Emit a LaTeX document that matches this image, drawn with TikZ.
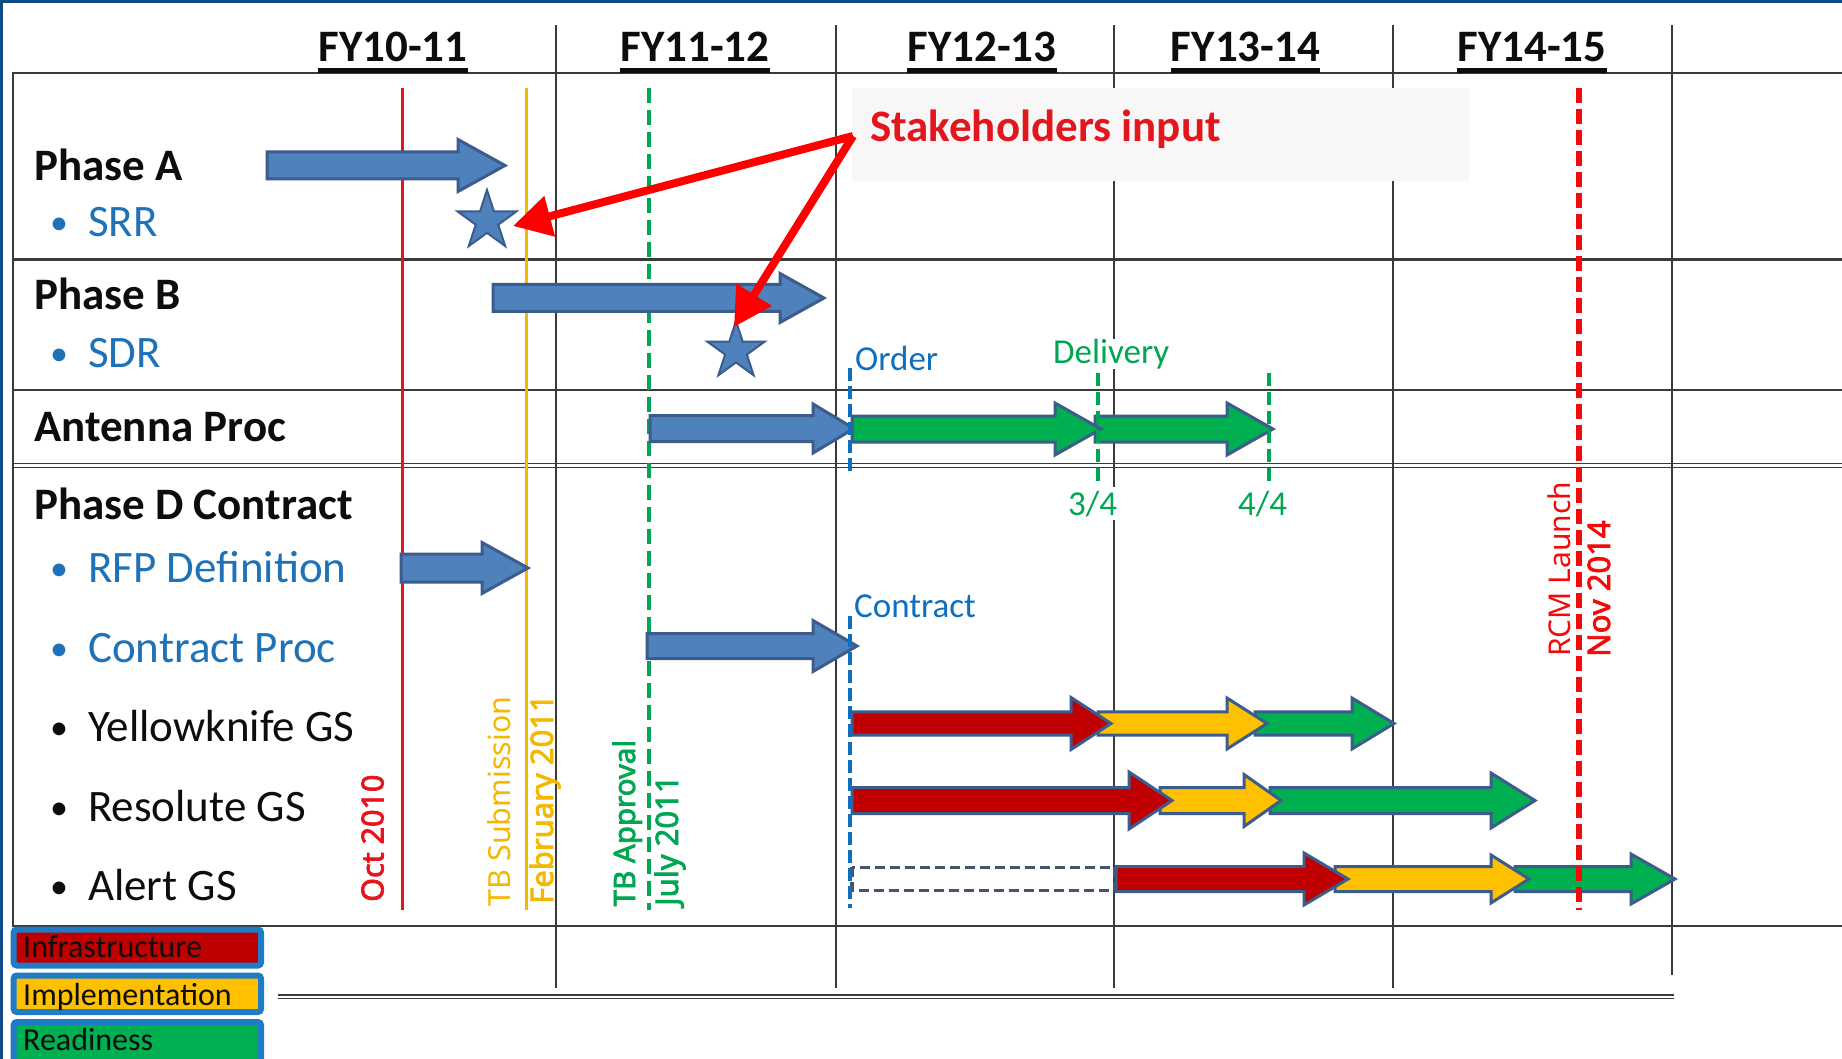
\documentclass[tikz,border=0pt]{standalone}
\usepackage{fontspec}
\setmainfont{Carlito}
\newfontfamily\notofont{Noto Sans}
\newfontfamily\notobf{Noto Sans}[FakeBold=2.5]
\usetikzlibrary{shapes.geometric,arrows.meta,calc}
\definecolor{navy}{HTML}{0E4A86}
\definecolor{gridc}{HTML}{3A3A3A}
\definecolor{bfill}{HTML}{4F81BD}
\definecolor{bline}{HTML}{3B5C8C}
\definecolor{infra}{HTML}{C00000}
\definecolor{impl}{HTML}{FFC000}
\definecolor{ready}{HTML}{00B050}
\definecolor{legb}{HTML}{1F7BC4}
\definecolor{subblue}{HTML}{1F72B8}
\definecolor{mblue}{HTML}{0E6FC0}
\definecolor{mgreen}{HTML}{00A651}
\definecolor{mred}{HTML}{E8141C}
\definecolor{rcmred}{HTML}{F50A0A}
\definecolor{myellow}{HTML}{F5B800}
\definecolor{stakebg}{HTML}{F8F6F6}
\definecolor{dashc}{HTML}{46556C}
\definecolor{stakered}{HTML}{E3161E}
\definecolor{txt}{HTML}{0D0D0D}
\newcommand\fsz[1]{\fontsize{#1}{#1}\selectfont}
\newcommand\bul{\makebox[38pt][l]{\fsz{36}\raisebox{2pt}{•}}}
\newcommand\blockarr[7]{\path[#1] (#2,{#5-#6}) -- (#3,{#5-#6}) -- (#3,{#5-#7}) -- (#4,#5) -- (#3,{#5+#7}) -- (#3,{#5+#6}) -- (#2,{#5+#6}) -- cycle;}
\begin{document}
\begin{tikzpicture}[x=1pt,y=-1pt,
  gridline/.style={draw=gridc,line width=1.5pt},
  barblue/.style={fill=bfill,draw=bline,line width=3pt,line join=miter},
  barred/.style={fill=infra,draw=bline,line width=3pt,line join=miter},
  baryel/.style={fill=impl,draw=bline,line width=3pt,line join=miter},
  bargrn/.style={fill=ready,draw=bline,line width=3pt,line join=miter},
  lbl/.style={inner sep=0pt,anchor=base west},
  vlbl/.style={inner sep=0pt,anchor=base west,rotate=90},
  fyl/.style={inner sep=0pt,anchor=base,font=\bfseries\fsz{45},text=txt},
  stk/.style={draw=red,line width=8pt,-{Triangle[length=38pt,width=40pt]}},
  legbox/.style={draw=legb,line width=6pt,rounded corners=3pt},
  bdash/.style={draw=mblue,line width=4pt,dash pattern=on 13pt off 5pt},
  gdash/.style={draw=mgreen,line width=4pt,dash pattern=on 13pt off 6pt}]
\useasboundingbox (0,0) rectangle (1842,1059);
\fill[white] (0,0) rectangle (1842,1059);
\fill[navy] (0,0) rectangle (1842,3.5);
\fill[navy] (0,0) rectangle (2.5,1059);
% grid
\foreach \x in {556,836,1114,1393} \draw[gridline] (\x,25) -- (\x,988);
\draw[gridline] (1672,25) -- (1672,975);
\draw[gridline,line width=2pt] (13,73) -- (1842,73);
\draw[gridline,line width=3pt] (13,260) -- (1842,260);
\draw[gridline,line width=2pt] (13,390) -- (1842,390);
\draw[gridline,line width=1.4pt] (13,463.5) -- (1842,463.5);
\draw[gridline,line width=1.4pt] (13,467.5) -- (1842,467.5);
\draw[gridline,line width=2pt] (13,926) -- (1842,926);
\draw[gridline,line width=2pt] (13.3,72) -- (13.3,927);
\draw[gridline,line width=1.3pt] (278,995) -- (1674,995);
\draw[gridline,line width=1.3pt] (278,998.5) -- (1674,998.5);
% stakeholders box
\fill[stakebg] (852,88) rectangle (1469,181);
% milestone lines
\draw[mred,line width=3pt] (402,88.5) -- (402,910);
\draw[myellow,line width=3pt] (526,88.5) -- (526,910);
\draw[mgreen,line width=4pt,dash pattern=on 15pt off 7pt] (648.5,88.5) -- (648.5,910);
% blue arrows
\blockarr{barblue}{267}{458}{505}{165.5}{13.5}{26}
\blockarr{barblue}{493}{780}{824}{298}{13.5}{24.5}
\blockarr{barblue}{650}{813}{854}{428.5}{13}{24.5}
\blockarr{barblue}{401}{482}{528}{568}{14}{25.5}
\blockarr{barblue}{647}{813}{857}{646}{12.5}{25.5}
% antenna green
\blockarr{bargrn}{1095}{1227}{1273}{429}{13}{26}
\blockarr{bargrn}{852}{1055}{1101}{429}{13}{26}
% Yellowknife
\blockarr{bargrn}{1255}{1352}{1394}{723.5}{11.7}{25.5}
\blockarr{baryel}{1098}{1227}{1267}{723.5}{11.7}{25.5}
\blockarr{barred}{852}{1071}{1111}{723.5}{11.7}{26}
% Resolute
\blockarr{bargrn}{1270}{1491}{1535}{800.5}{13}{27.5}
\blockarr{baryel}{1160}{1244}{1281}{800.5}{13}{26}
\blockarr{barred}{852}{1129}{1172}{800.5}{13}{28.5}
% Alert
\draw[dashc,line width=3.5pt,dash pattern=on 10pt off 5pt] (852,867.3) rectangle (1115,890.7);
\blockarr{bargrn}{1515}{1631}{1675}{879}{12.5}{25}
\blockarr{baryel}{1335}{1491}{1529}{879}{12.5}{24}
\blockarr{barred}{1116}{1304}{1348}{879}{12.5}{26}
% dashed markers on top
\draw[bdash] (850,368) -- (850,475);
\draw[bdash] (850,616) -- (850,908);
\draw[gdash] (1098.3,373) -- (1098.3,482);
\draw[gdash] (1269,373) -- (1269,482);
\draw[rcmred,line width=5.5pt,dash pattern=on 15pt off 6pt] (1579,88.5) -- (1579,910);
% stars
\node[star,star points=5,star point ratio=2.618,minimum size=62pt,inner sep=0pt,fill=bfill,draw=bline,line width=2pt] (srr) at (487,221) {};
\node[star,star points=5,star point ratio=2.618,minimum size=60pt,inner sep=0pt,fill=bfill,draw=bline,line width=2pt] (sdr) at (736,351) {};
% stakeholders
\node[lbl,font=\bfseries\fsz{45},text=stakered] (stake) at (870,141.5) {Stakeholders input};
\coordinate (apex) at (853,136);
\draw[stk] (apex) -- ([shift={(26,5)}]srr.center);
\draw[stk] (apex) -- ([shift={(-2,-24)}]sdr.center);
% headers
\node[fyl] (fy1) at (393,62) {FY10-11};
\node[fyl] (fy2) at (695,62) {FY11-12};
\node[fyl] (fy3) at (982,62) {FY12-13};
\node[fyl] (fy4) at (1245.5,62) {FY13-14};
\node[fyl] (fy5) at (1532,62) {FY14-15};
\foreach \n in {fy1,fy2,fy3,fy4,fy5}
  \draw[line width=4.5pt,txt] ($(\n.base west)+(0,8.5)$) -- ($(\n.base east)+(0,8.5)$);
% row labels
\node[lbl,font=\bfseries\fsz{45},text=txt] (pa) at (34,181) {Phase A};
\node[lbl,font=\fsz{45},text=subblue] (srrl) at (50,237) {\bul SRR};
\node[lbl,font=\bfseries\fsz{45},text=txt] (pb) at (34,310) {Phase B};
\node[lbl,font=\fsz{45},text=subblue] (sdrl) at (50,367) {\bul SDR};
\node[lbl,font=\bfseries\fsz{45},text=txt] (ant) at (34,441) {Antenna Proc};
\node[lbl,font=\bfseries\fsz{45},text=txt] (pd) at (34,519) {Phase D Contract};
\node[lbl,font=\fsz{45},text=subblue] (rfp) at (50,582) {\bul RFP Definition};
\node[lbl,font=\fsz{45},text=subblue] (cpr) at (50,662) {\bul Contract Proc};
\node[lbl,font=\fsz{45},text=txt] (yk) at (50,741) {\bul Yellowknife GS};
\node[lbl,font=\fsz{45},text=txt] (rs) at (50,821) {\bul Resolute GS};
\node[lbl,font=\fsz{45},text=txt] (al) at (50,900) {\bul Alert GS};
% small labels
\node[lbl,font=\fsz{35},text=mblue] (order) at (855,370.5) {Order};
\node[lbl,font=\fsz{35},text=mgreen,fill=white] (deliv) at (1053,363) {Delivery};
\node[lbl,font=\fsz{35},text=mgreen,fill=white,inner ysep=4pt] (q3) at (1068,515) {3/4};
\node[lbl,font=\fsz{35},text=mgreen,fill=white,inner ysep=4pt] (q4) at (1238,515) {4/4};
\node[lbl,font=\fsz{35},text=mblue] (contr) at (854,617) {Contract};
% vertical labels
\node[vlbl,font=\notobf\fsz{30.5},text=mred] (oct) at (383.5,902) {Oct 2010};
\node[vlbl,font=\notofont\fsz{30.5},text=myellow] (tbs) at (510,906.5) {TB Submission};
\node[vlbl,font=\notobf\fsz{31},text=myellow] (feb) at (553,904) {February 2011};
\node[vlbl,font=\notobf\fsz{29.5},text=mgreen] (tba) at (635,906.5) {TB Approval};
\node[vlbl,font=\notobf\fsz{31},text=mgreen] (jul) at (678,906) {July 2011};
\node[vlbl,font=\notofont\fsz{30},text=rcmred] (rcm) at (1570,657) {RCM Launch};
\node[vlbl,font=\notobf\fsz{31},text=rcmred] (nov) at (1610,657) {Nov 2014};
% legend
\draw[legbox,fill=infra] (13.7,929.5) rectangle (261,965.5);
\draw[legbox,fill=impl] (13.7,975.5) rectangle (261,1012);
\draw[legbox,fill=ready] (13.7,1022) rectangle (261,1068);
\node[lbl,font=\fsz{32},text=txt] (lg1) at (23,957) {Infrastructure};
\node[lbl,font=\fsz{32},text=txt] (lg2) at (23,1005) {Implementation};
\node[lbl,font=\fsz{32},text=txt] (lg3) at (23,1050) {Readiness};
\end{tikzpicture}
\end{document}
